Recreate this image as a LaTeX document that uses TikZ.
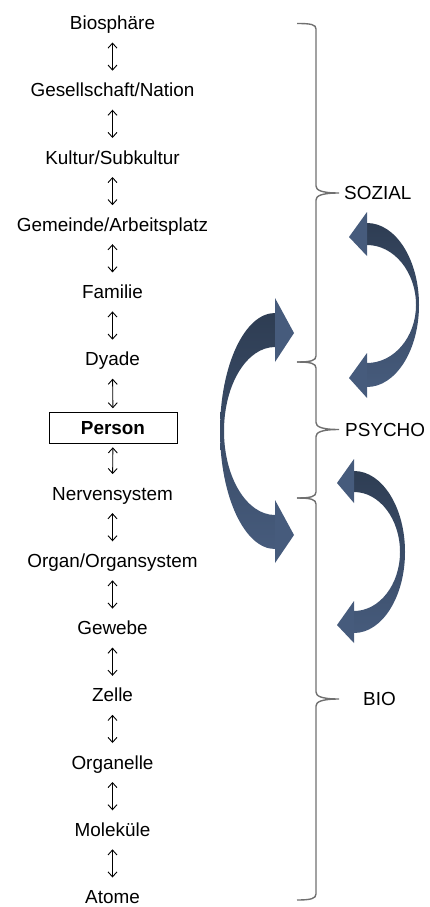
\documentclass[tikz,border=0pt]{standalone}
\usepackage{fontspec}
\setmainfont{Liberation Sans}
\usepackage{xcolor}
\usepackage{tikz}
\usetikzlibrary{arrows.meta,positioning}

\definecolor{arrowdark}{HTML}{2E3D53}
\definecolor{arrowlight}{HTML}{465B7C}
\definecolor{bracegray}{HTML}{707070}

\tikzset{
	level/.style={inner sep=0pt, text height=13pt, text depth=0pt, font=\fontsize{18.9}{22}\selectfont},
	updown/.style={{Straight Barb[length=5pt,width=9pt]}-{Straight Barb[length=5pt,width=9pt]}, line width=0.9pt, shorten <=19.5pt, shorten >=19.5pt},
	grpbrace/.style={draw=bracegray, line width=1.4pt},
	shaft/.style={top color=arrowdark, bottom color=arrowlight},
	tip/.style={fill=arrowlight}
}

\begin{document}
\begin{tikzpicture}[x=1pt,y=-1pt]
	\useasboundingbox (0,0) rectangle (430,907);
	\node[level] at (112.5,23) (1) {Biosphäre};
	\node[level] at (112.5,90.2) (2) {Gesellschaft/Nation};
	\node[level] at (112.5,157.5) (3) {Kultur/Subkultur};
	\node[level] at (112.5,224.7) (4) {Gemeinde/Arbeitsplatz};
	\node[level] at (112.5,291.9) (5) {Familie};
	\node[level] at (112.5,359.2) (6) {Dyade};
	\node[level, draw, line width=0.8pt, minimum width=128pt, minimum height=31pt] at (113,427.8) (7) {\bfseries Person};
	\node[level] at (112.5,493.6) (8) {Nervensystem};
	\node[level] at (112.5,560.8) (9) {Organ/Organsystem};
	\node[level] at (112.5,628.1) (10) {Gewebe};
	\node[level] at (112.5,695.3) (11) {Zelle};
	\node[level] at (112.5,762.5) (12) {Organelle};
	\node[level] at (112.5,829.8) (13) {Moleküle};
	\node[level] at (112.5,897) (14) {Atome};
	\draw[updown] (1.center) to (2.center);
	\draw[updown] (2.center) to (3.center);
	\draw[updown] (3.center) to (4.center);
	\draw[updown] (4.center) to (5.center);
	\draw[updown] (5.center) to (6.center);
	\draw[updown] (6.center) to (7.center);
	\draw[updown] (7.center) to (8.center);
	\draw[updown] (8.center) to (9.center);
	\draw[updown] (9.center) to (10.center);
	\draw[updown] (10.center) to (11.center);
	\draw[updown] (11.center) to (12.center);
	\draw[updown] (12.center) to (13.center);
	\draw[updown] (13.center) to (14.center);
	% braces
	\coordinate (soztip) at (339,193);
	\coordinate (psytip) at (339,429.5);
	\coordinate (biotip) at (339,699);
	\draw[grpbrace] (297,23.5) .. controls (311,23.5) and (316,24.5) .. (316,29) -- (316,186)
		.. controls (316,190) and (321,193) .. (soztip) .. controls (321,193) and (316,196) .. (316,200)
		-- (316,356) .. controls (316,360.5) and (311,362) .. (297,362);
	\draw[grpbrace] (297,362) .. controls (311,362) and (316,363.5) .. (316,368) -- (316,422.5)
		.. controls (316,426.5) and (321,429.5) .. (psytip) .. controls (321,429.5) and (316,432.5) .. (316,436.5)
		-- (316,492) .. controls (316,496.5) and (311,498) .. (297,498);
	\draw[grpbrace] (297,498) .. controls (311,498) and (316,499.5) .. (316,504) -- (316,692)
		.. controls (316,696) and (321,699) .. (biotip) .. controls (321,699) and (316,702) .. (316,706)
		-- (316,894) .. controls (316,898.5) and (311,900) .. (297,900);
	\node[level, right=5pt of soztip] (sozial) {SOZIAL};
	\node[level, right=6pt of psytip] (psycho) {PSYCHO};
	\node[level, right=24pt of biotip] (bio) {BIO};
	% curved arrows
	\shade[shaft] (367,223) .. controls (395.7,223) and (419,259.7) .. (419,305)
		.. controls (419,350.3) and (395.7,387) .. (367,387) -- (367,363)
		.. controls (394,363) and (416,337) .. (416,305)
		.. controls (416,272) and (394,245) .. (367,245) -- cycle;
	\fill[tip] (367,212) -- (349,237) -- (367,256) -- cycle;
	\fill[tip] (367,353) -- (349,378) -- (367,398) -- cycle;
	\shade[shaft] (275,313) .. controls (244.6,313) and (220,365.8) .. (220,431)
		.. controls (220,496.2) and (244.6,549) .. (275,549) -- (275,515)
		.. controls (246.8,515) and (224,477.4) .. (224,431)
		.. controls (224,384.6) and (246.8,347) .. (275,347) -- cycle;
	\fill[tip] (275,298) -- (294,333) -- (275,362) -- cycle;
	\fill[tip] (275,500) -- (294,535) -- (275,563) -- cycle;
	\shade[shaft] (354,471) .. controls (382.2,471) and (405,507.3) .. (405,552)
		.. controls (405,596.7) and (382.2,633) .. (354,633) -- (354,611)
		.. controls (379.4,611) and (400,584.6) .. (400,552)
		.. controls (400,518.9) and (379.4,492) .. (354,492) -- cycle;
	\fill[tip] (354,459) -- (337,483) -- (354,503) -- cycle;
	\fill[tip] (354,601) -- (337,625) -- (354,643) -- cycle;
\end{tikzpicture}
\end{document}
